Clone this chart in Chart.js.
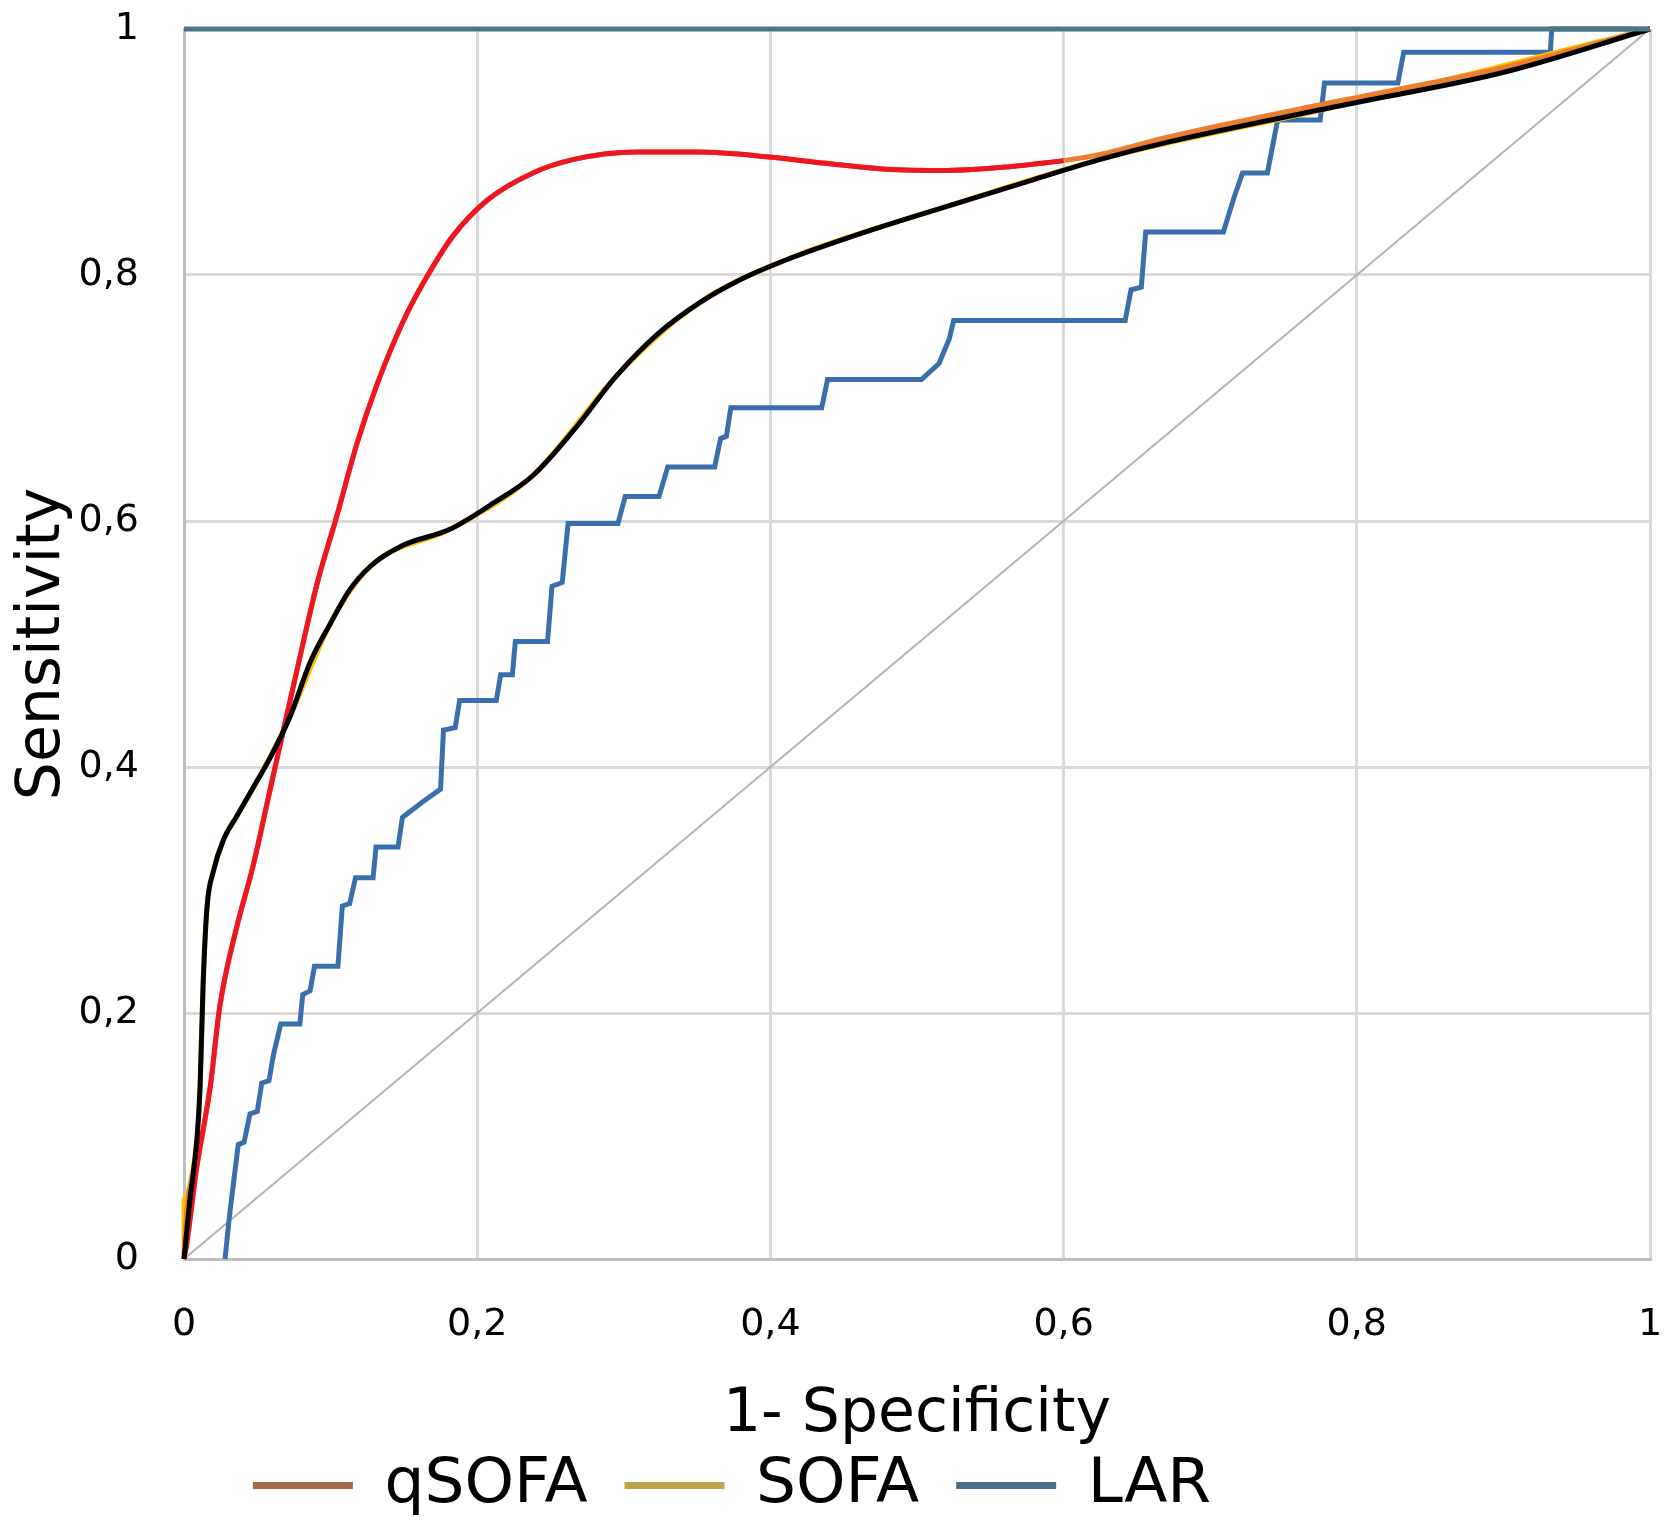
<!DOCTYPE html>
<html>
<head>
<meta charset="utf-8">
<script src="https://cdn.jsdelivr.net/npm/chart.js@4.4.1/dist/chart.umd.min.js"></script>
<style>
html,body{margin:0;padding:0;background:#ffffff;}
#wrap{width:1675px;height:1527px;}
</style>
</head>
<body>
<div id="wrap"><canvas id="c" width="1675" height="1527"></canvas></div>
<script>
// ---- Data ----
const seriesNames = ['qSOFA', 'SOFA', 'LAR'];
const xTickLabels = ['0', '0,2', '0,4', '0,6', '0,8', '1'];
const yTickLabels = ['0', '0,2', '0,4', '0,6', '0,8', '1'];
const xTitle = '1- Specificity';
const yTitle = 'Sensitivity';

// red smoothed curve (drawn over qSOFA)
const redX = [0, 0.002, 0.009, 0.018, 0.0245, 0.036, 0.047, 0.059, 0.068, 0.079, 0.091, 0.104, 0.118, 0.132, 0.149, 0.163, 0.183, 0.207, 0.238, 0.266, 0.309, 0.351, 0.399, 0.436, 0.479, 0.521, 0.563, 0.6];
const redY = [0, 0.013, 0.077, 0.141, 0.206, 0.27, 0.319, 0.383, 0.431, 0.489, 0.55, 0.603, 0.663, 0.712, 0.761, 0.793, 0.831, 0.861, 0.883, 0.894, 0.9, 0.9, 0.896, 0.891, 0.886, 0.885, 0.888, 0.893];

// black smoothed curve (drawn over SOFA)
const blackX = [0, 0.004, 0.009, 0.011, 0.013, 0.0157, 0.02, 0.027, 0.036, 0.05, 0.059, 0.072, 0.086, 0.1, 0.113, 0.127, 0.149, 0.181, 0.209, 0.238, 0.266, 0.295, 0.323, 0.351, 0.379, 0.408, 0.465, 0.521, 0.578, 0.625, 0.671, 0.786, 0.901, 1];
const blackY = [0, 0.048, 0.1, 0.141, 0.222, 0.286, 0.315, 0.341, 0.36, 0.389, 0.408, 0.44, 0.485, 0.517, 0.544, 0.563, 0.58, 0.593, 0.613, 0.637, 0.674, 0.718, 0.752, 0.777, 0.796, 0.811, 0.835, 0.856, 0.877, 0.894, 0.908, 0.937, 0.965, 1];

// qSOFA (orange)
const qsofaX = [0, 0.002, 0.009, 0.018, 0.0245, 0.036, 0.047, 0.059, 0.068, 0.079, 0.091, 0.104, 0.118, 0.132, 0.149, 0.163, 0.183, 0.207, 0.238, 0.266, 0.309, 0.351, 0.399, 0.436, 0.479, 0.521, 0.563, 0.6, 0.625, 0.671, 0.786, 0.901, 1];
const qsofaY = [0, 0.04, 0.077, 0.141, 0.206, 0.27, 0.319, 0.383, 0.431, 0.489, 0.55, 0.603, 0.663, 0.712, 0.761, 0.793, 0.831, 0.861, 0.883, 0.894, 0.9, 0.9, 0.896, 0.891, 0.886, 0.885, 0.888, 0.893, 0.898, 0.912, 0.941, 0.969, 1];

// SOFA (yellow)
const sofaX = [0, 0, 0.004, 0.009, 0.011, 0.013, 0.0157, 0.02, 0.027, 0.036, 0.05, 0.072, 0.1, 0.127, 0.181, 0.238, 0.295, 0.351, 0.408, 0.521, 0.625, 0.786, 1];
const sofaY = [0, 0.048, 0.06, 0.1, 0.141, 0.222, 0.286, 0.315, 0.341, 0.36, 0.389, 0.44, 0.517, 0.563, 0.593, 0.637, 0.718, 0.777, 0.811, 0.856, 0.894, 0.937, 1];

// LAR (blue step curve)
const larX = [0.028, 0.031, 0.037, 0.041, 0.045, 0.05, 0.053, 0.058, 0.061, 0.066, 0.079, 0.081, 0.086, 0.089, 0.105, 0.108, 0.113, 0.117, 0.129, 0.131, 0.146, 0.149, 0.162, 0.175, 0.177, 0.185, 0.188, 0.213, 0.216, 0.224, 0.226, 0.248, 0.251, 0.258, 0.262, 0.296, 0.301, 0.324, 0.33, 0.362, 0.366, 0.37, 0.373, 0.435, 0.439, 0.503, 0.515, 0.522, 0.525, 0.642, 0.646, 0.653, 0.656, 0.709, 0.716, 0.722, 0.739, 0.746, 0.775, 0.778, 0.828, 0.832, 0.932, 0.933, 1];
const larY = [0, 0.035, 0.093, 0.095, 0.118, 0.12, 0.143, 0.145, 0.166, 0.191, 0.191, 0.215, 0.218, 0.238, 0.238, 0.287, 0.289, 0.31, 0.31, 0.335, 0.335, 0.359, 0.371, 0.382, 0.43, 0.432, 0.454, 0.454, 0.475, 0.475, 0.502, 0.502, 0.547, 0.55, 0.598, 0.598, 0.62, 0.62, 0.644, 0.644, 0.667, 0.669, 0.692, 0.692, 0.715, 0.715, 0.728, 0.748, 0.763, 0.763, 0.788, 0.79, 0.835, 0.835, 0.862, 0.883, 0.883, 0.926, 0.926, 0.956, 0.956, 0.981, 0.981, 1, 1];

// reference lines
const diagX = [0, 1];
const diagY = [0, 1];
const topX = [0, 1];
const topY = [1, 1];

// ---- Build datasets ----
const pts = (xs, ys) => xs.map((x, i) => ({ x: x, y: ys[i] }));
const line = (data, color, width, smooth) => ({
  data: data, borderColor: color, backgroundColor: color, borderWidth: width,
  showLine: true, pointRadius: 0, pointHoverRadius: 0, fill: false, clip: 8,
  tension: 0, cubicInterpolationMode: smooth ? 'monotone' : 'default'
});

const datasets = [
  Object.assign({ label: 'top' }, line(pts(topX, topY), '#4d7882', 5, false)),
  Object.assign({ label: 'black' }, line(pts(blackX, blackY), '#000000', 5, true)),
  Object.assign({ label: 'red' }, line(pts(redX, redY), '#ee1620', 5, true)),
  Object.assign({ label: seriesNames[0] }, line(pts(qsofaX, qsofaY), '#ed7d31', 5, true)),
  Object.assign({ label: seriesNames[1] }, line(pts(sofaX, sofaY), '#ffc000', 5, true)),
  Object.assign({ label: seriesNames[2] }, line(pts(larX, larY), '#3a6fae', 5, false)),
  Object.assign({ label: 'ref' }, line(pts(diagX, diagY), '#b3b3b3', 2, false))
];
const legendColors = ['#a26c46', '#bba84a', '#4c6c86'];
const legendIdx = [3, 4, 5];

const legendShift = {
  id: 'legendShift',
  afterLayout(chart) {
    const lg = chart.legend;
    if (lg) { lg.left -= 93; lg.right -= 93; }
  }
};

new Chart(document.getElementById('c'), {
  type: 'scatter',
  data: { datasets: datasets },
  plugins: [legendShift],
  options: {
    responsive: false,
    animation: false,
    devicePixelRatio: 1,
    layout: { padding: { top: 29, right: 25, left: 0, bottom: 0 } },
    plugins: {
      tooltip: { enabled: false },
      legend: {
        position: 'bottom',
        onClick: null,
        labels: {
          font: { family: 'DejaVu Sans', size: 63 },
          color: '#000000',
          boxWidth: 100,
          boxHeight: 7,
          padding: 37,
          generateLabels: () => seriesNames.map((n, i) => ({
            text: n, fillStyle: legendColors[i], strokeStyle: legendColors[i],
            lineWidth: 0, hidden: false, datasetIndex: legendIdx[i], fontColor: '#000000'
          }))
        }
      }
    },
    scales: {
      x: {
        type: 'linear', min: 0, max: 1,
        afterFit: (s) => { s.height = 158; },
        ticks: {
          stepSize: 0.2, padding: 3, color: '#000000',
          font: { family: 'DejaVu Sans', size: 38 },
          maxRotation: 0,
          callback: (v) => xTickLabels[Math.round(v / 0.2)]
        },
        grid: { color: '#d9d9d9', lineWidth: 3, drawTicks: true, tickLength: 40, tickColor: 'rgba(0,0,0,0)' },
        border: { color: '#bfbfbf', width: 3 },
        title: {
          display: true, text: xTitle, color: '#000000',
          font: { family: 'DejaVu Sans', size: 60, lineHeight: '4px' },
          padding: { top: 0, bottom: 0 }
        }
      },
      y: {
        type: 'linear', min: 0, max: 1,
        afterFit: (s) => { s.width = 184; },
        ticks: {
          stepSize: 0.2, padding: 3, color: '#000000',
          font: { family: 'DejaVu Sans', size: 38 },
          callback: (v) => yTickLabels[Math.round(v / 0.2)]
        },
        grid: { color: '#d9d9d9', lineWidth: 3, drawTicks: true, tickLength: 42, tickColor: 'rgba(0,0,0,0)' },
        border: { color: '#bfbfbf', width: 3 },
        title: {
          display: true, text: yTitle, color: '#000000',
          font: { family: 'DejaVu Sans', size: 60 },
          padding: { top: 7, bottom: 0 }
        }
      }
    }
  }
});
</script>
</body>
</html>
